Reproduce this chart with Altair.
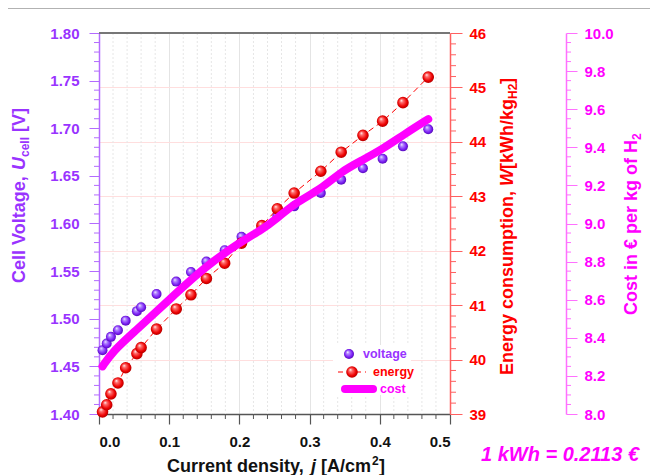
import altair as alt
import pandas as pd

# ---------------- data ----------------
j_vals = [0.005, 0.011, 0.017, 0.027, 0.038, 0.054, 0.060, 0.082, 0.110, 0.131, 0.153,
          0.179, 0.203, 0.232, 0.254, 0.278, 0.316, 0.345, 0.376, 0.404, 0.433, 0.469]
voltage = [1.467, 1.474, 1.481, 1.488, 1.498, 1.508, 1.512, 1.526, 1.539, 1.549, 1.560,
           1.572, 1.586, 1.596, 1.608, 1.618, 1.632, 1.646, 1.658, 1.668, 1.681, 1.699]
energy = [39.04, 39.17, 39.37, 39.57, 39.85, 40.11, 40.22, 40.56, 40.93, 41.19, 41.49,
          41.77, 42.14, 42.46, 42.77, 43.06, 43.46, 43.81, 44.12, 44.38, 44.72, 45.19]
cost_j = [0.005, 0.02, 0.05, 0.10, 0.15, 0.202, 0.232, 0.254, 0.279, 0.317, 0.345, 0.376,
          0.404, 0.434, 0.469]
cost = [8.25, 8.33, 8.43, 8.60, 8.77, 8.905, 8.967, 9.028, 9.107, 9.183, 9.273, 9.334,
        9.391, 9.466, 9.548]

x_ticks = [0.0, 0.1, 0.2, 0.3, 0.4, 0.5]
x_minor = [round(i * 0.02, 2) for i in range(26) if i % 5 != 0]
v_ticks = [1.40, 1.45, 1.50, 1.55, 1.60, 1.65, 1.70, 1.75, 1.80]
v_minor = [round(1.40 + i * 0.01, 2) for i in range(41) if i % 5 != 0]
e_ticks = [39, 40, 41, 42, 43, 44, 45, 46]
e_minor = [round(39 + i * 0.2, 1) for i in range(36) if i % 5 != 0]
c_ticks = [8.0, 8.2, 8.4, 8.6, 8.8, 9.0, 9.2, 9.4, 9.6, 9.8, 10.0]
c_minor = [round(8.0 + i * 0.05, 2) for i in range(41) if i % 4 != 0]

df = pd.DataFrame({"j": j_vals, "voltage": voltage, "energy": energy})
cost_df = pd.DataFrame({"j": cost_j, "cost": cost})

# ---------------- style ----------------
W, H = 351, 381
FONT = "Liberation Sans"
PURPLE_TXT = "#9933ff"
PURPLE_AX = "#b36bff"
RED = "#ff0000"
RED_AX = "#ff6060"
MAG = "#ff00ff"
MAG_AX = "#ff70ff"
C_OFF = 116


def sphere(light, base, dark):
    return alt.RadialGradient(
        gradient="radial", x1=0.35, y1=0.3, r1=0.0, x2=0.5, y2=0.5, r2=0.55,
        stops=[alt.GradientStop(offset=0.0, color="#ffffff"),
               alt.GradientStop(offset=0.25, color=light),
               alt.GradientStop(offset=0.7, color=base),
               alt.GradientStop(offset=1.0, color=dark)])


RED_SPH = sphere("#ff7070", "#ee0000", "#a00000")
PUR_SPH = sphere("#b58cff", "#7a1cf5", "#4a0aa0")

xscale = alt.Scale(domain=[0, 0.5], nice=False, zero=False)
vscale = alt.Scale(domain=[1.4, 1.8], nice=False, zero=False)
escale = alt.Scale(domain=[39, 46], nice=False, zero=False)
cscale = alt.Scale(domain=[8.0, 10.0], nice=False, zero=False)

x_axis = alt.Axis(values=x_ticks, format=".1f", title=None, grid=True, gridColor="#e4e4e4",
                  domainColor="#555555", domainWidth=1.5, tickColor="#555555", tickWidth=1.2,
                  tickSize=10, labelFont=FONT, labelFontSize=15, labelFontWeight="bold",
                  labelColor="#111111", labelPadding=10)
X = alt.X("j:Q", scale=xscale, axis=x_axis)

v_axis = alt.Axis(orient="left", values=v_ticks, format=".2f", title=None, grid=False,
                  domainColor=PURPLE_AX, domainWidth=1.5, tickColor=PURPLE_AX, tickSize=10,
                  labelFont=FONT, labelFontSize=15, labelFontWeight="bold",
                  labelColor=PURPLE_TXT, labelPadding=10)
e_axis = alt.Axis(orient="right", values=e_ticks, format="d", title=None, grid=True,
                  gridColor="#ffdede", domainColor=RED_AX, domainWidth=1.5, tickColor=RED_AX,
                  tickSize=12, labelFont=FONT, labelFontSize=15, labelFontWeight="bold",
                  labelColor=RED, labelPadding=7)
c_axis = alt.Axis(orient="right", offset=C_OFF, values=c_ticks, format=".1f", title=None,
                  grid=False, domainColor=MAG_AX, domainWidth=1.5, tickColor=MAG_AX,
                  tickSize=11, labelFont=FONT, labelFontSize=15, labelFontWeight="bold",
                  labelColor=MAG, labelPadding=7)

# ---------------- x minor grid / ticks ----------------
xmin_df = pd.DataFrame({"j": x_minor})
x_minor_grid = alt.Chart(xmin_df).mark_rule(color="#e6e6e6", strokeDash=[2, 2], strokeWidth=1).encode(
    x=X, y=alt.value(0), y2=alt.value(H))
x_minor_ticks = alt.Chart(xmin_df).mark_rule(color="#555555", strokeWidth=1).encode(
    x=X, y=alt.value(H), y2=alt.value(H + 5))

# ---------------- voltage ----------------
v_points = alt.Chart(df).mark_circle(size=100, opacity=1, fill=PUR_SPH).encode(
    x=X, y=alt.Y("voltage:Q", scale=vscale, axis=v_axis))
v_min = alt.Chart(pd.DataFrame({"voltage": v_minor})).mark_rule(
    color=PURPLE_AX, strokeWidth=1).encode(
    y=alt.Y("voltage:Q", scale=vscale, axis=v_axis), x=alt.value(-5), x2=alt.value(0))
v_layer = alt.layer(v_min, v_points)

# ---------------- energy ----------------
EY = alt.Y("energy:Q", scale=escale, axis=e_axis)
e_line = alt.Chart(df).mark_line(color=RED, strokeWidth=1, strokeDash=[6, 4]).encode(x=X, y=EY)
e_points = alt.Chart(df).mark_circle(size=135, opacity=1, fill=RED_SPH).encode(x=X, y=EY)
e_min = alt.Chart(pd.DataFrame({"energy": e_minor})).mark_rule(color=RED_AX, strokeWidth=1).encode(
    y=EY, x=alt.value(W), x2=alt.value(W + 6))
e_layer = alt.layer(e_min, e_line, e_points)

# ---------------- cost ----------------
CY = alt.Y("cost:Q", scale=cscale, axis=c_axis)
c_line = alt.Chart(cost_df).mark_line(color=MAG, strokeWidth=8, strokeCap="round",
                                      strokeJoin="round", interpolate="basis").encode(x=X, y=CY)
c_min = alt.Chart(pd.DataFrame({"cost": c_minor})).mark_rule(color=MAG_AX, strokeWidth=1).encode(
    y=CY, x=alt.value(W + C_OFF), x2=alt.value(W + C_OFF + 5))
c_layer = alt.layer(c_min, c_line)

# ---------------- decorations ----------------
one = pd.DataFrame({"a": [0]})


def txt(s, x, y, color, size=18, angle=0, style="normal", align="left", baseline="middle"):
    kw = dict(text=s, color=color, font=FONT, fontSize=size, fontWeight="bold",
              fontStyle=style, align=align, baseline=baseline)
    if angle:
        kw["angle"] = angle
    return alt.Chart(one).mark_text(**kw).encode(x=alt.value(x), y=alt.value(y))


def hrule(x1, x2, y, color, width, dash=None, cap="butt"):
    kw = dict(color=color, strokeWidth=width, strokeCap=cap)
    if dash:
        kw["strokeDash"] = dash
    return alt.Chart(one).mark_rule(**kw).encode(x=alt.value(x1), x2=alt.value(x2), y=alt.value(y))


deco = [
    hrule(-97, 563, -26, "#999999", 3.5),
    hrule(0, W, 0, "#777777", 2),
    # legend
    alt.Chart(one).mark_rect(fill="white").encode(
        x=alt.value(234), x2=alt.value(312), y=alt.value(312), y2=alt.value(362)),
    alt.Chart(one).mark_circle(size=100, opacity=1, fill=PUR_SPH).encode(
        x=alt.value(250), y=alt.value(321)),
    txt("voltage", 264, 321, PURPLE_TXT, size=12.5),
    hrule(239, 267, 339, RED, 1, dash=[5, 4]),
    alt.Chart(one).mark_circle(size=135, opacity=1, fill=RED_SPH).encode(
        x=alt.value(253), y=alt.value(339)),
    txt("energy", 274, 339, RED, size=12.5),
    hrule(246, 274, 356, MAG, 8, cap="round"),
    txt("cost", 281, 356, MAG, size=12.5),
    # left title
    txt("Cell Voltage, ", -79, 250, PURPLE_TXT, angle=270),
    txt("U", -79, 137, PURPLE_TXT, angle=270, style="italic"),
    txt("cell", -74, 124, PURPLE_TXT, size=12, angle=270),
    txt("[V]", -79, 99, PURPLE_TXT, angle=270),
    # energy title
    txt("Energy consumption, ", 409, 342, RED, angle=270),
    txt("W", 409, 153, RED, angle=270, style="italic"),
    txt("[kWh/kg", 409, 136, RED, angle=270),
    txt("H2", 414, 66, RED, size=12, angle=270),
    txt("]", 409, 51, RED, angle=270),
    # cost title
    txt("Cost in € per kg of H", 533, 282, MAG, angle=270),
    txt("2", 538, 107, MAG, size=12, angle=270),
    # x title
    txt("Current density, ", 68, 434, "#111111"),
    txt("j", 212, 434, "#111111", style="italic"),
    txt("[A/cm", 222, 434, "#111111"),
    txt("2", 273, 428, "#111111", size=12),
    txt("]", 280, 434, "#111111"),
    # note
    txt("1 kWh = 0.2113 €", 461, 422, MAG, size=20, style="italic", align="center"),
]

chart = alt.layer(
    x_minor_grid, x_minor_ticks, v_layer, e_layer, c_layer, *deco
).resolve_scale(y="independent").properties(
    width=W, height=H,
    autosize=alt.AutoSizeParams(type="none"),
    padding={"left": 91, "top": 25, "right": 200, "bottom": 61},
    background="white",
).configure_view(stroke=None)

chart.save("out.html", embed_options={"renderer": "svg", "actions": False})
